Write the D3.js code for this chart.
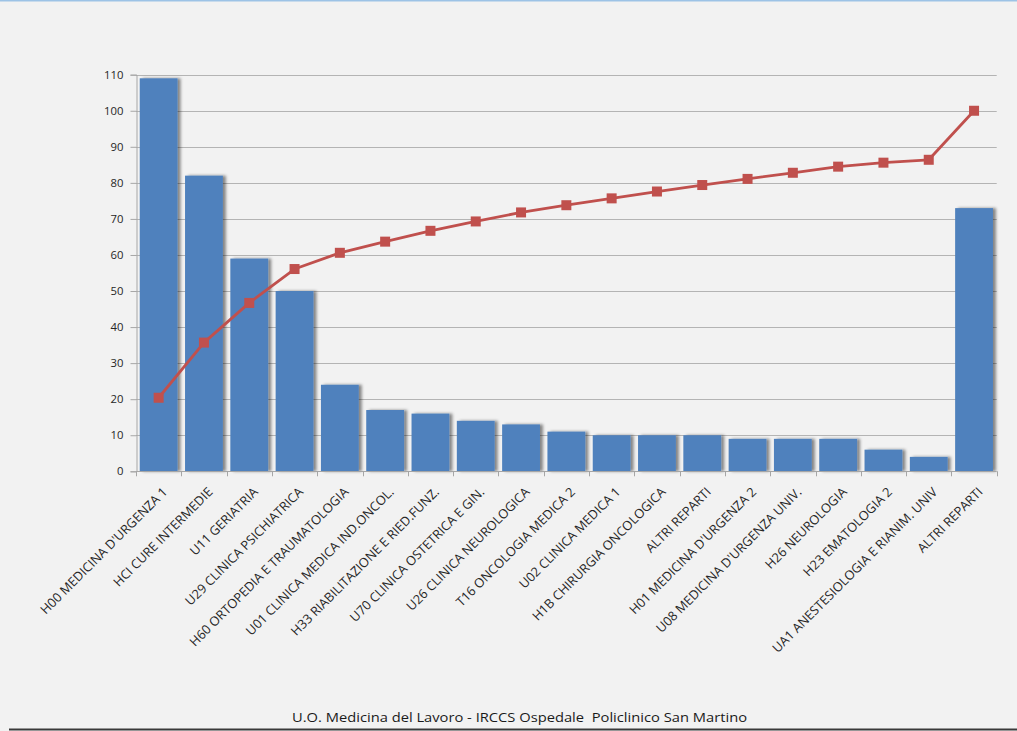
<!DOCTYPE html>
<html><head><meta charset="utf-8">
<script src="https://cdn.jsdelivr.net/npm/d3@7"></script>
<style>
html,body{margin:0;padding:0;background:#F2F2F2;}
svg{display:block;}
</style></head>
<body>
<svg id="chart" width="1017" height="731"></svg>
<script>
const categories = [
  "H00 MEDICINA D'URGENZA 1", "HCI CURE INTERMEDIE", "U11 GERIATRIA", "U29 CLINICA PSICHIATRICA",
  "H60 ORTOPEDIA E TRAUMATOLOGIA", "U01 CLINICA MEDICA IND.ONCOL.", "H33 RIABILITAZIONE E RIED.FUNZ.",
  "U70 CLINICA OSTETRICA E GIN.", "U26 CLINICA NEUROLOGICA", "T16 ONCOLOGIA MEDICA 2", "U02 CLINICA MEDICA 1",
  "H1B CHIRURGIA ONCOLOGICA", "ALTRI REPARTI", "H01 MEDICINA D'URGENZA 2", "U08 MEDICINA D'URGENZA UNIV.",
  "H26 NEUROLOGIA", "H23 EMATOLOGIA 2", "UA1 ANESTESIOLOGIA E RIANIM. UNIV", "ALTRI REPARTI"
];
const counts = [109, 82, 59, 50, 24, 17, 16, 14, 13, 11, 10, 10, 10, 9, 9, 9, 6, 4, 73];
const cumulativePct = [20.4, 35.7, 46.7, 56.1, 60.6, 63.7, 66.7, 69.3, 71.8, 73.8, 75.7, 77.6, 79.4, 81.1, 82.8, 84.5, 85.6, 86.4, 100];
const yTicks = [0, 10, 20, 30, 40, 50, 60, 70, 80, 90, 100, 110];
const footerText = "U.O. Medicina del Lavoro - IRCCS Ospedale  Policlinico San Martino";

const svg = d3.select("#chart");
const W = 1017, H = 731;
const plot = {left: 136, right: 996.7, top: 74.7, bottom: 471.3};

svg.append("rect").attr("width", W).attr("height", H).attr("fill", "#F2F2F2");
svg.append("line").attr("x1", 0).attr("x2", W).attr("y1", 0.5).attr("y2", 0.5)
  .attr("stroke", "#9DC3E6").attr("stroke-width", 2);
svg.append("line").attr("x1", 9).attr("x2", W).attr("y1", 729.5).attr("y2", 729.5)
  .attr("stroke", "#3A3A3A").attr("stroke-width", 2);

const defs = svg.append("defs");
const f = defs.append("filter").attr("id", "shadow").attr("x", "-10%").attr("y", "-10%").attr("width", "130%").attr("height", "120%");
f.append("feDropShadow").attr("dx", 3).attr("dy", 0).attr("stdDeviation", 1.6)
  .attr("flood-color", "#000").attr("flood-opacity", 0.45);

const idx = categories.map((d, i) => i);
const x = d3.scaleBand().domain(idx).range([plot.left, plot.right]).paddingInner(0.165).paddingOuter(0.0825);
const xb = d3.scaleLinear().domain([0, categories.length]).range([plot.left, plot.right]);
const y = d3.scaleLinear().domain([0, 110]).range([plot.bottom, plot.top]);

// gridlines
svg.append("g").selectAll("line").data(yTicks.filter(d => d > 0)).join("line")
  .attr("x1", plot.left).attr("x2", plot.right)
  .attr("y1", d => Math.round(y(d)) + 0.5).attr("y2", d => Math.round(y(d)) + 0.5)
  .attr("stroke", "#B4B4B4").attr("stroke-width", 1.2);

// bars
svg.append("g").attr("filter", "url(#shadow)").selectAll("rect").data(counts).join("rect")
  .attr("x", (d, i) => x(i)).attr("width", x.bandwidth())
  .attr("y", d => y(d)).attr("height", d => y(0) - y(d))
  .attr("fill", "#4F81BD");

// y axis
const yAxis = svg.append("g").attr("transform", `translate(${plot.left + 0.5},0)`)
  .call(d3.axisLeft(y).tickValues(yTicks).tickSize(6).tickPadding(7));
yAxis.select(".domain").attr("stroke", "#A6A6A6");
yAxis.selectAll(".tick line").attr("stroke", "#A6A6A6");
yAxis.selectAll(".tick text").attr("font-family", "Open Sans").attr("font-size", "11.3px").attr("fill", "#262626");

// x axis baseline and boundary ticks
svg.append("line").attr("x1", plot.left).attr("x2", plot.right)
  .attr("y1", Math.round(plot.bottom) + 0.5).attr("y2", Math.round(plot.bottom) + 0.5)
  .attr("stroke", "#A6A6A6");
svg.append("g").selectAll("line").data(d3.range(categories.length + 1)).join("line")
  .attr("x1", d => Math.round(xb(d)) + 0.5).attr("x2", d => Math.round(xb(d)) + 0.5)
  .attr("y1", plot.bottom).attr("y2", plot.bottom + 5)
  .attr("stroke", "#A6A6A6");

// x labels
const xAxis = svg.append("g").attr("transform", `translate(0,${plot.bottom})`)
  .call(d3.axisBottom(x).tickSize(0).tickFormat(i => categories[i]));
xAxis.select(".domain").remove();
xAxis.selectAll(".tick text")
  .attr("font-family", "Open Sans").attr("font-size", "12.8px").attr("fill", "#262626")
  .attr("text-anchor", "end").attr("y", 0).attr("dy", 0)
  .attr("transform", "translate(9.5,21.5) rotate(-45)");

// cumulative line
const line = d3.line().x((d, i) => x(i) + x.bandwidth() / 2).y(d => y(d));
svg.append("path").datum(cumulativePct).attr("d", line)
  .attr("fill", "none").attr("stroke", "#C0504D").attr("stroke-width", 2.8).attr("stroke-linejoin", "round");
svg.append("g").selectAll("rect").data(cumulativePct).join("rect")
  .attr("x", (d, i) => x(i) + x.bandwidth() / 2 - 5).attr("y", d => y(d) - 5)
  .attr("width", 10).attr("height", 10).attr("fill", "#C0504D");

// footer
svg.append("text").attr("x", 519.5).attr("y", 722).attr("text-anchor", "middle")
  .attr("xml:space", "preserve").style("white-space", "pre")
  .attr("font-family", "Open Sans").attr("font-size", "13.5px").attr("fill", "#1a1a1a")
  .attr("textLength", 455).attr("lengthAdjust", "spacingAndGlyphs")
  .text(footerText);
</script>
</body></html>
